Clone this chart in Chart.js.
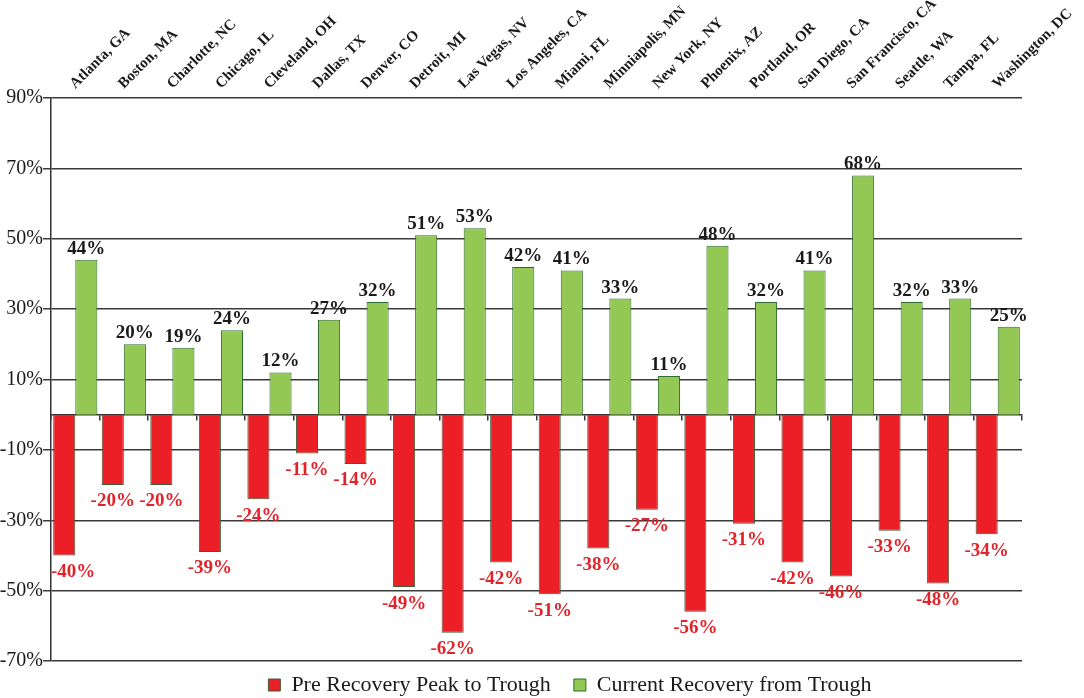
<!DOCTYPE html>
<html>
<head>
<meta charset="utf-8">
<script src="https://cdn.jsdelivr.net/npm/chart.js@4/dist/chart.umd.min.js"></script>
<style>
html,body{margin:0;padding:0;background:#fff;}
canvas{display:block;}
</style>
</head>
<body>
<canvas id="c" width="1084" height="698"></canvas>
<script>
const cities = ['Atlanta, GA','Boston, MA','Charlotte, NC','Chicago, IL','Cleveland, OH','Dallas, TX','Denver, CO','Detroit, MI','Las Vegas, NV','Los Angeles, CA','Miami, FL','Minniapolis, MN','New York, NY','Phoenix, AZ','Portland, OR','San Diego, CA','San Francisco, CA','Seattle, WA','Tampa, FL','Washington, DC'];
const peakToTrough = [-40,-20,-20,-39,-24,-11,-14,-49,-62,-42,-51,-38,-27,-56,-31,-42,-46,-33,-48,-34];
const currentRecovery = [44,20,19,24,12,27,32,51,53,42,41,33,11,48,32,41,68,32,33,25];
const yTickValues = [-70,-50,-30,-10,10,30,50,70,90];
const seriesNames = ['Pre Recovery Peak to Trough','Current Recovery from Trough'];

const SERIF = '"Liberation Serif", "Times New Roman", serif';

const valueLabels = {
  id: 'valueLabels',
  afterDatasetsDraw(chart) {
    const ctx = chart.ctx, area = chart.chartArea;
    ctx.save();
    ctx.font = 'bold 19px ' + SERIF;
    ctx.textAlign = 'center';
    chart.data.datasets.forEach((ds, di) => {
      const meta = chart.getDatasetMeta(di);
      meta.data.forEach((bar, i) => {
        const v = ds.data[i];
        const txt = v + '%';
        const w = ctx.measureText(txt).width;
        let x = bar.x;
        if (x - w / 2 < area.left) x = area.left + w / 2;
        if (v < 0) {
          ctx.fillStyle = '#e3232a';
          ctx.textBaseline = 'top';
          ctx.fillText(txt, x, bar.y + 7);
        } else {
          ctx.fillStyle = '#1a1a1a';
          ctx.textBaseline = 'alphabetic';
          ctx.fillText(txt, x, bar.y - 6);
        }
      });
    });
    ctx.restore();
  }
};

const categoryLabels = {
  id: 'categoryLabels',
  afterDraw(chart) {
    const ctx = chart.ctx, xs = chart.scales.x;
    ctx.save();
    ctx.font = 'bold 15px ' + SERIF;
    ctx.fillStyle = '#1a1a1a';
    ctx.textAlign = 'left';
    ctx.textBaseline = 'alphabetic';
    chart.data.labels.forEach((lab, i) => {
      const x = xs.getPixelForValue(i);
      const y = chart.chartArea.top - 9;
      ctx.save();
      ctx.translate(x, y);
      ctx.rotate(-Math.PI / 4);
      ctx.fillText(lab, 0, 0);
      ctx.restore();
    });
    ctx.restore();
  }
};

const legendShift = {
  id: 'legendShift',
  afterLayout(chart) {
    const lg = chart.legend;
    if (!lg) return;
    lg.left += 59; lg.right += 59;
    lg.top -= 10; lg.bottom = chart.height;
  }
};

new Chart(document.getElementById('c'), {
  type: 'bar',
  data: {
    labels: cities,
    datasets: [
      {
        label: seriesNames[0],
        data: peakToTrough,
        backgroundColor: '#ec1f26',
        borderColor: '#3f5f37',
        borderWidth: 1
      },
      {
        label: seriesNames[1],
        data: currentRecovery,
        backgroundColor: '#92c853',
        borderColor: '#2e6b2e',
        borderWidth: 1
      }
    ]
  },
  options: {
    responsive: false,
    animation: false,
    layout: { padding: { left: 0, right: 62, top: 0, bottom: 0 } },
    datasets: { bar: { categoryPercentage: 0.91, barPercentage: 1 } },
    scales: {
      x: {
        position: 'top',
        offset: true,
        grid: { display: false, drawTicks: false },
        border: { display: false },
        ticks: { display: false },
        afterFit(scale) { scale.height = 98; }
      },
      x2: {
        type: 'category',
        labels: cities,
        position: { y: 0 },
        offset: true,
        grid: { display: true, drawOnChartArea: false, drawTicks: true, tickLength: 5, color: '#333', lineWidth: 1.5, offset: true },
        border: { display: true, color: '#333', width: 1.5 },
        ticks: { display: false }
      },
      y: {
        min: -70,
        max: 90,
        afterBuildTicks(scale) { scale.ticks = yTickValues.map(v => ({ value: v })); },
        afterFit(scale) { scale.width = 51; },
        grid: { color: '#3a3a3a', lineWidth: 1.5, tickLength: 8, tickColor: '#3a3a3a' },
        border: { display: true, color: '#333', width: 1.5 },
        ticks: {
          padding: 0,
          color: '#1a1a1a',
          font: { family: SERIF, size: 20 },
          callback: v => v + '%'
        }
      }
    },
    plugins: {
      legend: {
        position: 'bottom',
        maxHeight: 37,
        labels: {
          boxWidth: 12,
          boxHeight: 12,
          padding: 23,
          color: '#1a1a1a',
          font: { family: SERIF, size: 22 }
        }
      },
      tooltip: { enabled: false }
    }
  },
  plugins: [valueLabels, categoryLabels, legendShift]
});
</script>
</body>
</html>
